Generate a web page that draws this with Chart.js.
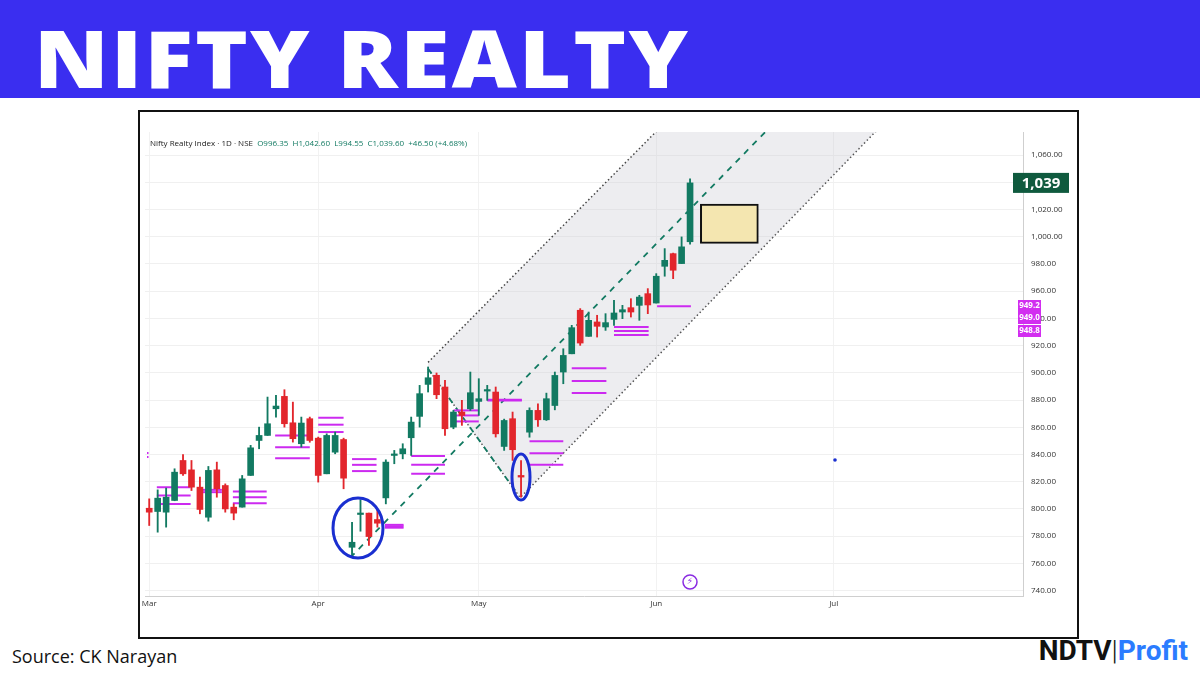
<!DOCTYPE html>
<html>
<head>
<meta charset="utf-8">
<script src="https://cdn.jsdelivr.net/npm/chart.js@4"></script>
<style>
  body { margin:0; width:1200px; height:675px; background:#fff; position:relative; overflow:hidden; font-family:"Open Sans", sans-serif; }
  #band { position:absolute; left:0; top:0; width:1200px; height:98px; background:#3a2ef0; }
  #band h1 { margin:0; position:absolute; left:34px; top:2px; color:#fff; font-family:"Open Sans", sans-serif; font-weight:800; font-size:80px; letter-spacing:2px; transform:scaleX(1.12); transform-origin:left center; }
  #frame { position:absolute; left:138px; top:110px; width:937px; height:525px; border:2px solid #111; }
  #src { position:absolute; left:12px; top:644px; font-size:18px; color:#111; }
  #logo { position:absolute; right:12px; top:634px; font-size:28px; font-weight:700; font-family:"Roboto", sans-serif; }
  #logo .n { color:#111; } #logo .p { color:#2b7cff; }
  canvas { position:absolute; left:0; top:0; }
</style>
</head>
<body>
<div id="band"><h1>NIFTY REALTY</h1></div>
<div id="frame"></div>
<div id="src">Source: CK Narayan</div>
<div id="logo"><span class="n">NDTV</span><span class="n" style="font-weight:300">|</span><span class="p">Profit</span></div>
<canvas id="c" width="1200" height="675"></canvas>
<script>
// CANDLES (trading day index 0..64)
const opens  = [800.5,798.1,797.6,806.2,835.6,828.7,816,793.9,828.7,817.2,801.3,801.3,824.6,850.3,854,873.6,882.7,863.3,847.9,866.3,852,825.8,841.7,851,
  771.8,795.9,796.9,792.2,808.1,839.3,840.5,852.3,868,891.5,898.2,889.6,860.1,871.2,873.6,879,886.6,885.9,845.9,866.3,824.6,
  856.4,872.4,865.5,876,900.6,914,946,926.8,937.4,933.7,939.3,944.7,947.9,949.6,958.2,951.3,978.3,987.6,980.3,996.35];
const closes = [797.6,807.9,808.6,827,825.8,816,799.6,828.3,814.8,800,796.9,822.1,844.9,854,862.6,875.6,862.6,851.6,863.1,850.3,824.6,854,854,822.6,
  775.5,796.9,779.7,789.5,834.4,840,844.2,863.8,884.7,896.4,883.9,858.9,871.2,868.7,885.4,881,887.1,855.2,865,843.5,823.4,
  872.4,865.5,881,898.1,912.8,933.2,921.9,938.6,934.2,936.9,944,946.4,944.7,955.7,949.9,971,982.7,975.4,992.6,1039.6];
const highs  = [807.4,814,815.3,829.5,840,835.6,823.4,831.2,834.4,818.4,803.7,824.6,846.7,860.1,882.2,883.4,887.6,878.5,867.5,867.5,852.8,855.2,856.5,852,
  790.2,806.7,796.9,799.3,836.1,843,847.9,867.5,890.8,904.3,899.9,894.5,872.4,879.8,900.6,895.7,890.8,889.6,866,871.2,835.6,
  874.3,877.3,885.1,900.6,917.7,934.9,947.2,944.7,942.3,943.5,953.3,949.6,954.5,957,961.9,972.9,991.3,988,999.9,1042.6];
const lows   = [787.8,782.9,786.6,806,824.6,813.5,796.4,791,808.6,797.6,792,801.3,824.6,844.2,854,867.5,860.1,849.1,845.4,849,819.7,825.8,840.5,814.8,
  765.7,783.6,773.1,786.6,803.7,833.2,836.8,839.3,860.1,885.9,881,854,858.9,861.4,872.4,868.7,879.8,852.8,843,835.6,808.6,
  852.7,860.6,865,872.8,892,914,920.2,926.8,926.3,931.2,934.9,939.8,941,938.6,943.5,951.3,971,969.2,980.3,994.55];
const idx = opens.map((_, i) => i);

// MONTH TICKS
const monthIdx = [0, 20, 39, 60, 81];
const monthNames = ["Mar", "Apr", "May", "Jun", "Jul"];
const yTicks = [740,760,780,800,820,840,860,880,900,920,940,960,980,1000,1020,1040,1060];

// PIVOT LEVELS [from, to, value]
const levels = [
  [0.9,4.9,816],[0.9,4.9,809.9],[0.9,4.9,803.7],
  [6.2,8.6,814],[6.2,8.6,812.3],
  [9.9,13.9,812.8],[9.9,13.9,808.6],[9.9,13.9,804.2],
  [14.9,19,854],[14.9,19,845.4],[14.9,19,837.3],
  [20,23,867],[20,23,861.9],[20,23,856.5],
  [24,26.9,836.6],[24,26.9,832.4],[24,26.9,827.8],
  [27.9,30.1,788.3],[27.9,30.1,787.2],[27.9,30.1,786.2],
  [31,35,838.8],[31,35,832.4],[31,35,825.8],
  [36,39,872.4],[36,39,868.7],[36,39,864.3],
  [40,44.1,880.3],[40,44.1,879.6],
  [45,49,849.8],[45,49,841],[45,49,832.4],
  [50,54.1,903.3],[50,54.1,894],[50,54.1,885.1],
  [55,59.1,933.7],[55,59.1,930.7],[55,59.1,927.8],
  [60.1,64.1,948.9]
];

// CHANNEL
const chanX = [33, 43.9, 85.9, 103.4];
const chanUpper = [907.7, 976.3, 1240, 1350];
const chanLower = [903, 808.3, 1077, 1144];
const trendA = [[23.8, 764.2], [72.9, 1077]];
const trendV = [[33, 903], [43.3, 813.5]];

const GREEN = "#127a62", RED = "#e2262c";
const col = idx.map(i => closes[i] >= opens[i] ? GREEN : RED);

const datasets = [
  { type:"line", data: chanX.map((x,i)=>({x, y: chanUpper[i]})), borderColor:"#444", borderWidth:1.5, borderDash:[1.5,2.5], pointRadius:0, fill:"+1", backgroundColor:"rgba(200,200,208,0.32)", order:10 },
  { type:"line", data: chanX.map((x,i)=>({x, y: chanLower[i]})), borderColor:"#444", borderWidth:1.5, borderDash:[1.5,2.5], pointRadius:0, fill:false, order:10 },
  { type:"line", data: trendA.map(p=>({x:p[0], y:p[1]})), borderColor:"#127a62", borderWidth:1.8, borderDash:[6,6], pointRadius:0, order:9 },
  { type:"line", data: trendV.map(p=>({x:p[0], y:p[1]})), borderColor:"#127a62", borderWidth:1.8, borderDash:[6,6], pointRadius:0, order:9 },
];
levels.forEach(l => datasets.push({ type:"line", data:[{x:l[0],y:l[2]},{x:l[1],y:l[2]}], borderColor:"#cc2af0", borderWidth:2, pointRadius:0, order:5 }));
datasets.push({ type:"bar", data: idx.map(i=>({x:i, y:[lows[i], highs[i]]})), backgroundColor: col, barThickness:1.2, grouped:false, order:2 });
datasets.push({ type:"bar", data: idx.map(i=>({x:i, y:[opens[i], closes[i]]})), backgroundColor: col, barThickness:6, grouped:false, minBarLength:1.5, order:1 });
// target box
datasets.push({ type:"bar", data:[{x:68.65, y:[995.2, 1024]}], backgroundColor:"#f4e6b0", borderColor:"#111", borderWidth:2, borderSkipped:false, barThickness:58, grouped:false, order:0 });

const extras = {
  id:"extras",
  afterDatasetsDraw(chart) {
    const c = chart.ctx, ys = chart.scales.y;
    c.save();
    // hand-drawn circles
    c.strokeStyle = "#1a2fd0"; c.lineWidth = 3;
    c.beginPath(); c.ellipse(358, 528, 25, 30, 0, 0, Math.PI*2); c.stroke();
    c.beginPath(); c.ellipse(521, 477, 9, 23, 0, 0, Math.PI*2); c.stroke();
    c.fillStyle = "#1a2fd0"; c.beginPath(); c.arc(835, 460, 1.8, 0, Math.PI*2); c.fill();
    // lightning icon
    c.strokeStyle = "#8a2be2"; c.lineWidth = 1.5;
    c.beginPath(); c.arc(690, 582, 7, 0, Math.PI*2); c.stroke();
    c.fillStyle = "#8a2be2"; c.font = "bold 9px 'DejaVu Sans'"; c.textAlign = "center"; c.textBaseline = "middle";
    c.fillText("⚡", 690, 582);
    // header text
    c.textAlign = "left"; c.font = "8px 'Open Sans'"; c.fillStyle = "#222";
    const t1 = "Nifty Realty Index · 1D · NSE  ";
    c.fillText(t1, 150, 144);
    c.fillStyle = "#127a62";
    c.fillText("O996.35  H1,042.60  L994.55  C1,039.60  +46.50 (+4.68%)", 150 + c.measureText(t1).width, 144);
    // price labels
    const y0 = ys.getPixelForValue(1039.6);
    c.fillStyle = "#0f5a3e"; c.fillRect(1013, y0-10, 56, 20);
    c.fillStyle = "#fff"; c.font = "bold 15px 'Open Sans'"; c.textAlign = "center";
    c.fillText("1,039", 1041, y0+1);
    [[949.2,306],[949.0,318],[948.8,331]].forEach(p => {
      c.fillStyle = "#d22df0"; c.fillRect(1018, p[1]-6, 23, 12);
      c.fillStyle = "#fff"; c.font = "bold 8px 'Open Sans'"; c.fillText(p[0].toFixed(1), 1029.5, p[1]);
    });
    c.fillStyle = "#cc2af0"; c.fillRect(147, 452, 1.5, 2); c.fillRect(147, 456, 1.5, 2);
    c.restore();
  }
};

new Chart(document.getElementById("c"), {
  data: { datasets },
  options: {
    responsive:false, animation:false,
    layout:{ padding:{ left:145, top:132, right:112, bottom:59 } },
    plugins:{ legend:{display:false}, tooltip:{enabled:false} },
    scales:{
      x:{ type:"linear", min:-0.5, max:103.4, offset:false,
        afterBuildTicks: s => { s.ticks = monthIdx.map(v=>({value:v})); },
        afterFit: s => { s.height = 20; },
        ticks:{ callback:(v)=> monthNames[monthIdx.indexOf(v)] || "", font:{size:8, family:"Open Sans"}, color:"#333", maxRotation:0, autoSkip:false, padding:3 },
        grid:{ color:"#f2f2f2", drawTicks:false, offset:false }, border:{ color:"#cfcfcf" } },
      y:{ position:"right", min:736, max:1077,
        afterBuildTicks: s => { s.ticks = yTicks.map(v=>({value:v})); },
        afterFit: s => { s.width = 65; },
        ticks:{ callback:v => v.toLocaleString("en-US",{minimumFractionDigits:2}), font:{size:8, family:"Open Sans"}, color:"#333", padding:8 },
        grid:{ color:"#f0f0f0", drawTicks:false }, border:{ color:"#cfcfcf" } }
    }
  },
  plugins:[extras]
});
</script>
</body>
</html>
